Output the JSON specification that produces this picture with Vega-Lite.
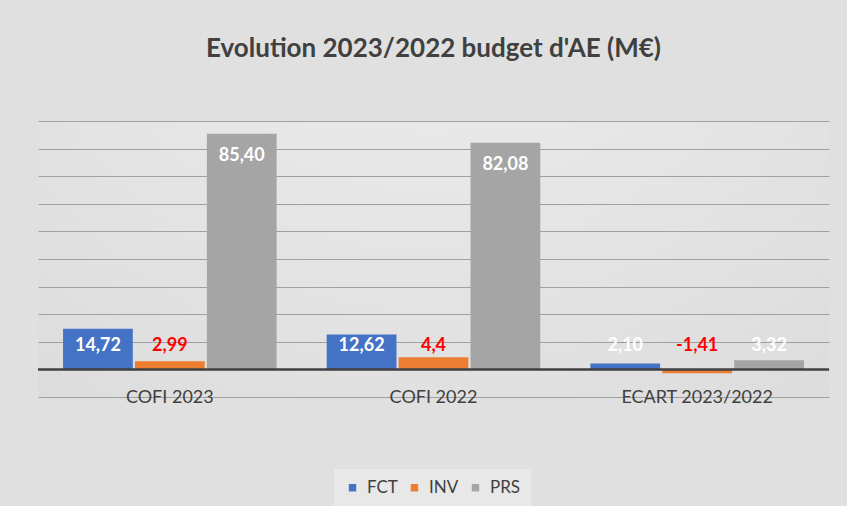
{
  "$schema": "https://vega.github.io/schema/vega-lite/v6.json",
  "width": 791,
  "height": 276,
  "padding": {"left": 36, "top": 36, "right": 20, "bottom": 0},
  "background": "#e0e0e0",
  "title": {
    "text": "Evolution 2023/2022 budget d'AE (M€)",
    "font": "Lato",
    "fontSize": 26,
    "fontWeight": "bold",
    "color": "#404040",
    "anchor": "middle",
    "offset": 59
  },
  "config": {
    "view": {"stroke": null, "fill": {"gradient": "radial", "x1": 0.5, "y1": 0, "x2": 0.5, "y2": 0, "r1": 0, "r2": 0.85, "stops": [{"offset": 0, "color": "#f0f0f0"}, {"offset": 1, "color": "#dcdcdc"}]}},
    "font": "Lato"
  },
  "data": {
    "values": [
      {"categorie": "COFI 2023", "serie": "FCT", "valeur": 14.72, "label": "14,72"},
      {"categorie": "COFI 2023", "serie": "INV", "valeur": 2.99, "label": "2,99"},
      {"categorie": "COFI 2023", "serie": "PRS", "valeur": 85.40, "label": "85,40"},
      {"categorie": "COFI 2022", "serie": "FCT", "valeur": 12.62, "label": "12,62"},
      {"categorie": "COFI 2022", "serie": "INV", "valeur": 4.4, "label": "4,4"},
      {"categorie": "COFI 2022", "serie": "PRS", "valeur": 82.08, "label": "82,08"},
      {"categorie": "ECART 2023/2022", "serie": "FCT", "valeur": 2.10, "label": "2,10"},
      {"categorie": "ECART 2023/2022", "serie": "INV", "valeur": -1.41, "label": "-1,41"},
      {"categorie": "ECART 2023/2022", "serie": "PRS", "valeur": 3.32, "label": "3,32"}
    ]
  },
  "layer": [
    {
      "mark": {"type": "bar"},
      "encoding": {
        "x": {
          "field": "categorie", "type": "nominal",
          "sort": ["COFI 2023", "COFI 2022", "ECART 2023/2022"],
          "scale": {"paddingInner": 0.19, "paddingOuter": 0.095},
          "axis": {"title": null, "domain": false, "ticks": false, "labelAngle": 0, "labelBaseline": "middle", "labelPadding": 0, "labelFont": "Lato", "labelFontSize": 18, "labelColor": "#404040"}
        },
        "xOffset": {"field": "serie", "type": "nominal", "sort": ["FCT", "INV", "PRS"], "scale": {"paddingInner": 0.03}},
        "y": {
          "field": "valeur", "type": "quantitative",
          "scale": {"domain": [-10, 90], "nice": false, "zero": true},
          "axis": {"title": null, "labels": false, "ticks": false, "domain": false, "grid": true, "gridColor": "#a0a0a0", "gridWidth": 1, "values": [-10, 0, 10, 20, 30, 40, 50, 60, 70, 80, 90], "tickCount": 11}
        },
        "color": {
          "field": "serie", "type": "nominal",
          "scale": {"domain": ["FCT", "INV", "PRS"], "range": ["#4472C4", "#ED7D31", "#A5A5A5"]},
          "legend": {"title": null, "orient": "none", "legendX": 296, "legendY": 348, "direction": "horizontal", "symbolType": "square", "symbolSize": 55, "labelFont": "Lato", "labelFontSize": 17, "labelColor": "#404040", "fillColor": "#e8e8e8", "padding": 10, "columnPadding": 8, "labelOffset": 6}
        }
      }
    },
    {
      "data": {"values": [{}]},
      "mark": {"type": "rule", "color": "#404040", "strokeWidth": 2.5},
      "encoding": {"y": {"datum": 0}}
    },
    {
      "transform": [{"filter": "datum.valeur > 50"}],
      "mark": {"type": "text", "font": "Lato", "fontSize": 18, "fontWeight": "bold", "baseline": "middle", "dy": 22},
      "encoding": {
        "x": {"field": "categorie", "type": "nominal", "sort": ["COFI 2023", "COFI 2022", "ECART 2023/2022"]},
        "xOffset": {"field": "serie", "type": "nominal", "sort": ["FCT", "INV", "PRS"]},
        "y": {"field": "valeur", "type": "quantitative"},
        "text": {"field": "label"},
        "color": {"condition": {"test": "datum.serie === 'INV'", "value": "#FF0000"}, "value": "#ffffff"}
      }
    },
    {
      "transform": [{"filter": "datum.valeur <= 50"}],
      "mark": {"type": "text", "font": "Lato", "fontSize": 18, "fontWeight": "bold", "baseline": "middle"},
      "encoding": {
        "x": {"field": "categorie", "type": "nominal", "sort": ["COFI 2023", "COFI 2022", "ECART 2023/2022"]},
        "xOffset": {"field": "serie", "type": "nominal", "sort": ["FCT", "INV", "PRS"]},
        "y": {"datum": 8.3},
        "text": {"field": "label"},
        "color": {"condition": {"test": "datum.serie === 'INV'", "value": "#FF0000"}, "value": "#ffffff"}
      }
    }
  ]
}
